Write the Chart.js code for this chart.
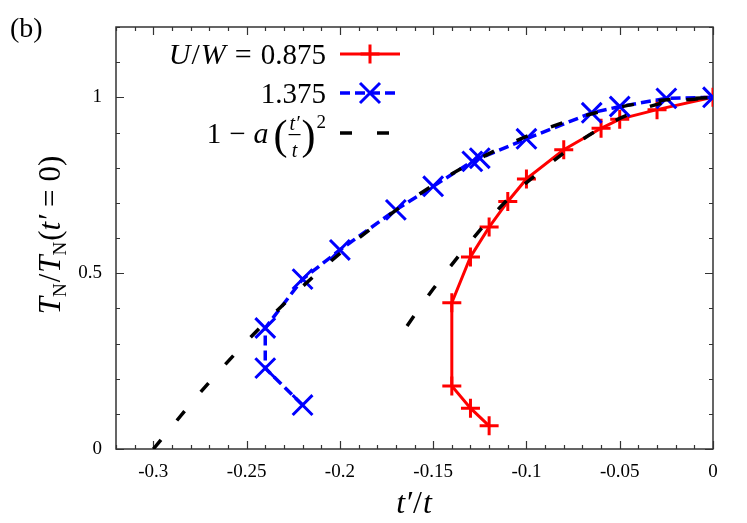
<!DOCTYPE html>
<html>
<head>
<meta charset="utf-8">
<script src="https://cdn.jsdelivr.net/npm/chart.js@4.4.1/dist/chart.umd.min.js"></script>
<style>
  body { margin: 0; background: #fff; }
  #wrap { width: 747px; height: 523px; position: relative; }
</style>
</head>
<body>
<div id="wrap"><canvas id="plot"></canvas></div>
<script>
// U/W = 0.875 (red, +)
var redX = [-0.12, -0.13, -0.14, -0.14, -0.13, -0.12, -0.11, -0.10, -0.08, -0.06, -0.05, -0.03, 0];
var redY = [0.066, 0.116, 0.179, 0.416, 0.546, 0.631, 0.704, 0.768, 0.851, 0.912, 0.938, 0.965, 1.0];
// U/W = 1.375 (blue, x)
var blueX = [-0.22, -0.24, -0.24, -0.22, -0.20, -0.17, -0.15, -0.129, -0.125, -0.10, -0.065, -0.05, -0.025, 0];
var blueY = [0.125, 0.230, 0.344, 0.483, 0.566, 0.680, 0.747, 0.818, 0.827, 0.882, 0.956, 0.974, 0.997, 1.0];
// dashed fits 1 - a (t'/t)^2
var fitAX = [-0.30, -0.27, -0.24, -0.21, -0.18, -0.15, -0.12, -0.09, -0.06, -0.03, 0];
var fitAY = [0.0, 0.19, 0.36, 0.51, 0.64, 0.75, 0.84, 0.91, 0.96, 0.99, 1.0];
var fitBX = [-0.164, -0.15, -0.13, -0.11, -0.09, -0.07, -0.05, -0.03, 0];
var fitBY = [0.35, 0.455, 0.59, 0.71, 0.80, 0.88, 0.94, 0.98, 1.0];

var xLabels = [-0.3, -0.25, -0.2, -0.15, -0.1, -0.05, 0];
var yLabels = [0, 0.5, 1];

var FONT = "'Liberation Serif', 'DejaVu Serif', serif";

function pts(xs, ys) {
  return xs.map(function (x, i) { return { x: x, y: ys[i] }; });
}
function isLabel(list, v) {
  return list.some(function (l) { return Math.abs(l - v) < 1e-9; });
}

// text pieces: plain, italic, sub/superscript (dy) and a small fraction
function pieceWidth(ctx, p) {
  if (p.frac) {
    ctx.font = 'italic ' + p.size + 'px ' + FONT;
    return Math.max(ctx.measureText(p.num).width, ctx.measureText(p.den).width) + 4;
  }
  ctx.font = (p.it ? 'italic ' : '') + p.size + 'px ' + FONT;
  return ctx.measureText(p.t).width;
}
function drawPieces(ctx, pieces, x, y) {
  ctx.textBaseline = 'alphabetic';
  ctx.textAlign = 'left';
  ctx.fillStyle = '#000';
  pieces.forEach(function (p) {
    var w = pieceWidth(ctx, p);
    if (p.frac) {
      ctx.font = 'italic ' + p.size + 'px ' + FONT;
      ctx.textAlign = 'center';
      ctx.fillText(p.num, x + w / 2, y - 13);
      ctx.fillText(p.den, x + w / 2, y + 14);
      ctx.textAlign = 'left';
      ctx.fillRect(x + 1, y - 9, w - 2, 1.2);
    } else {
      ctx.font = (p.it ? 'italic ' : '') + p.size + 'px ' + FONT;
      ctx.fillText(p.t, x, y + (p.dy || 0));
    }
    x += w + (p.gap || 0);
  });
}
function totalWidth(ctx, pieces) {
  return pieces.reduce(function (s, p) { return s + pieceWidth(ctx, p) + (p.gap || 0); }, 0);
}

var legendRows = [
  { pieces: [{ t: 'U', it: 1, size: 30, gap: 1 }, { t: '/', size: 30, gap: 1 }, { t: 'W', it: 1, size: 30, gap: 9 },
             { t: '=', size: 30, gap: 9 }, { t: '0.875', size: 29 }],
    color: '#ff0000', dash: [], marker: 'plus', lw: 3 },
  { pieces: [{ t: '1.375', size: 29 }],
    color: '#0000ff', dash: [10, 5], marker: 'x', lw: 3.5 },
  { pieces: [{ t: '1', size: 29, gap: 8 }, { t: '\u2212', size: 29, gap: 8 }, { t: 'a', it: 1, size: 30, gap: 5 },
             { t: '(', size: 42, dy: 6 }, { frac: 1, num: 't\u2032', den: 't', size: 20 },
             { t: ')', size: 42, dy: 6, gap: 1 }, { t: '2', size: 19, dy: -15 }],
    color: '#000', dash: [12, 25], marker: null, lw: 3.5 }
];

function drawMarker(ctx, kind, x, y, color) {
  ctx.save();
  ctx.strokeStyle = color;
  ctx.lineWidth = 3;
  ctx.setLineDash([]);
  ctx.beginPath();
  if (kind === 'plus') {
    ctx.moveTo(x - 9.5, y); ctx.lineTo(x + 9.5, y);
    ctx.moveTo(x, y - 9.5); ctx.lineTo(x, y + 9.5);
  } else {
    ctx.moveTo(x - 10, y - 10); ctx.lineTo(x + 10, y + 10);
    ctx.moveTo(x - 10, y + 10); ctx.lineTo(x + 10, y - 10);
  }
  ctx.stroke();
  ctx.restore();
}

var decor = {
  id: 'decor',
  beforeDatasetsDraw: function (chart) {
    var ctx = chart.ctx, a = chart.chartArea;
    var xs = chart.scales.x, ys = chart.scales.y;
    ctx.save();
    ctx.strokeStyle = '#333';
    ctx.lineWidth = 1.2;
    ctx.beginPath();
    xs.ticks.forEach(function (t) {
      var px = Math.round(xs.getPixelForValue(t.value)) + 0.5;
      var len = isLabel(xLabels, t.value) ? 8 : 4;
      ctx.moveTo(px, a.bottom); ctx.lineTo(px, a.bottom - len);
      ctx.moveTo(px, a.top); ctx.lineTo(px, a.top + len);
    });
    ys.ticks.forEach(function (t) {
      var py = Math.round(ys.getPixelForValue(t.value)) + 0.5;
      var len = isLabel(yLabels, t.value) ? 8 : 4;
      ctx.moveTo(a.left, py); ctx.lineTo(a.left + len, py);
      ctx.moveTo(a.right, py); ctx.lineTo(a.right - len, py);
    });
    ctx.stroke();
    ctx.lineWidth = 1.5;
    ctx.strokeRect(a.left, a.top, a.right - a.left, a.bottom - a.top);
    ctx.restore();
  },
  afterDraw: function (chart) {
    var ctx = chart.ctx;
    ctx.save();
    // panel label
    drawPieces(ctx, [{ t: '(b)', size: 28 }], 10, 37);
    // x title
    var xt = [{ t: 't\u2032', it: 1, size: 32, gap: 1 }, { t: '/', size: 32, gap: 1 }, { t: 't', it: 1, size: 32 }];
    drawPieces(ctx, xt, 414 - totalWidth(ctx, xt) / 2, 513);
    // y title, rotated
    var yt = [{ t: 'T', it: 1, size: 31 }, { t: 'N', size: 19, dy: 6, gap: 1 }, { t: '/', size: 31, gap: 1 },
              { t: 'T', it: 1, size: 31 }, { t: 'N', size: 19, dy: 6, gap: 1 }, { t: '(', size: 31 },
              { t: 't\u2032', it: 1, size: 31, gap: 8 }, { t: '=', size: 31, gap: 8 }, { t: '0)', size: 31 }];
    ctx.save();
    ctx.translate(60, 235);
    ctx.rotate(-Math.PI / 2);
    drawPieces(ctx, yt, -totalWidth(ctx, yt) / 2, 0);
    ctx.restore();
    // legend
    var rowY = [54, 93, 133];
    legendRows.forEach(function (r, i) {
      var w = totalWidth(ctx, r.pieces);
      drawPieces(ctx, r.pieces, 326 - w, rowY[i] + 10);
      ctx.save();
      ctx.strokeStyle = r.color;
      ctx.lineWidth = r.lw;
      ctx.setLineDash(r.dash);
      ctx.beginPath();
      ctx.moveTo(340, rowY[i]); ctx.lineTo(400, rowY[i]);
      ctx.stroke();
      ctx.restore();
      if (r.marker) drawMarker(ctx, r.marker, 370, rowY[i], r.color);
    });
    ctx.restore();
  }
};

new Chart(document.getElementById('plot'), {
  type: 'scatter',
  data: {
    datasets: [
      { label: '1 - a (t\'/t)^2', data: pts(fitAX, fitAY), showLine: true, borderColor: '#000',
        borderWidth: 3.5, borderDash: [12, 25], pointRadius: 0, cubicInterpolationMode: 'monotone', order: 0 },
      { label: 'fit 2', data: pts(fitBX, fitBY), showLine: true, borderColor: '#000',
        borderWidth: 3.5, borderDash: [12, 25], pointRadius: 0, cubicInterpolationMode: 'monotone', order: 0 },
      { label: 'U/W = 0.875', data: pts(redX, redY), showLine: true, borderColor: '#ff0000',
        borderWidth: 3, pointStyle: 'cross', pointRadius: 9.5, pointBorderWidth: 3,
        pointBorderColor: '#ff0000', order: 2 },
      { label: '1.375', data: pts(blueX, blueY), showLine: true, borderColor: '#0000ff',
        borderWidth: 3.5, borderDash: [10, 5], pointStyle: 'crossRot', pointRadius: 14, pointBorderWidth: 3,
        pointBorderColor: '#0000ff', order: 1 }
    ]
  },
  options: {
    responsive: true,
    maintainAspectRatio: false,
    animation: false,
    layout: { padding: { left: 0, top: 27, right: 34, bottom: 0 } },
    plugins: { legend: { display: false }, tooltip: { enabled: false } },
    scales: {
      x: {
        type: 'linear', min: -0.32, max: 0,
        grid: { display: false, drawTicks: false },
        border: { display: false },
        afterFit: function (s) { s.height = 74; },
        ticks: {
          stepSize: 0.01, autoSkip: false, maxRotation: 0, padding: 12, color: '#000',
          font: { family: FONT, size: 19 },
          callback: function (v) { return isLabel(xLabels, v) ? String(+v.toFixed(2)) : ''; }
        }
      },
      y: {
        type: 'linear', min: 0, max: 1.2,
        grid: { display: false, drawTicks: false },
        border: { display: false },
        afterFit: function (s) { s.width = 116; },
        ticks: {
          stepSize: 0.1, autoSkip: false, padding: 14, color: '#000',
          font: { family: FONT, size: 19 },
          callback: function (v) { return isLabel(yLabels, v) ? String(+v.toFixed(1)) : ''; }
        }
      }
    }
  },
  plugins: [decor]
});
</script>
</body>
</html>
